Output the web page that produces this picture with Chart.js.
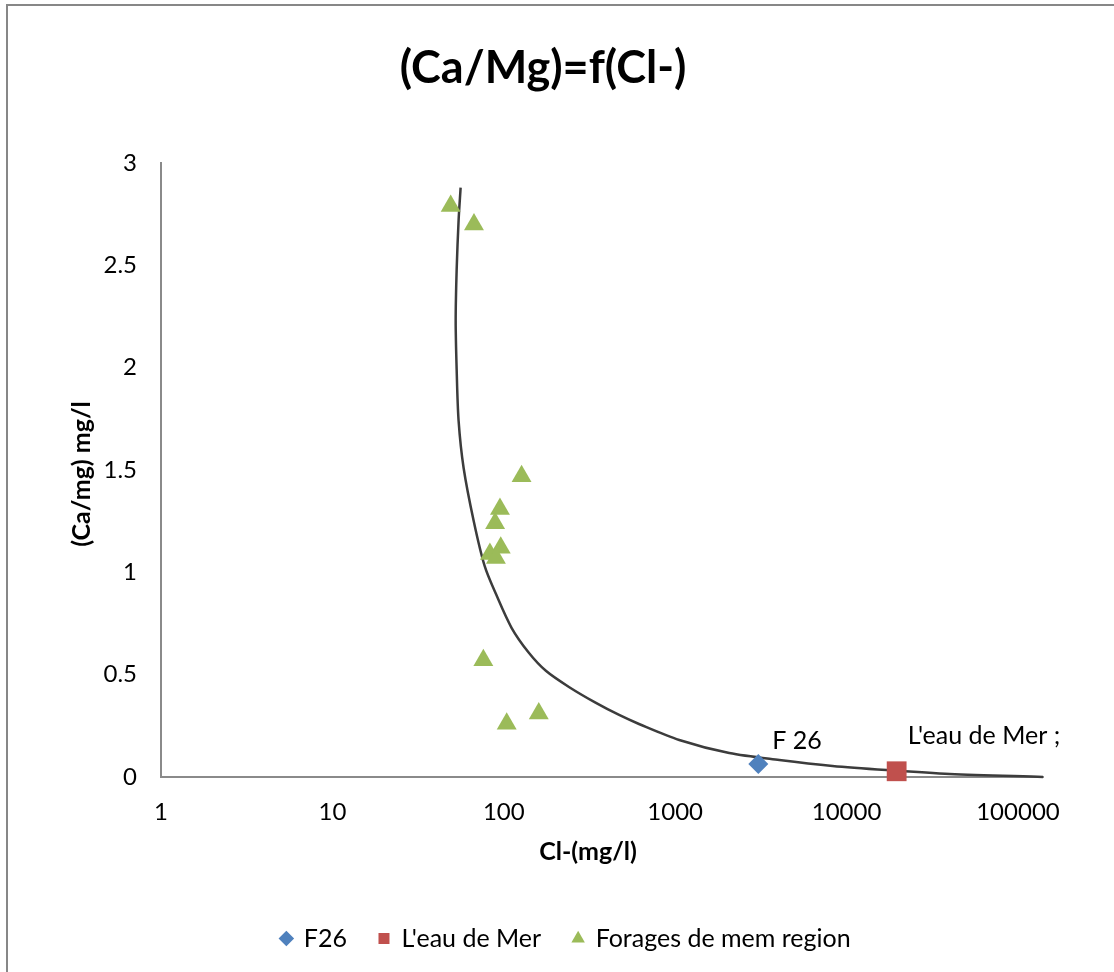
<!DOCTYPE html>
<html>
<head>
<meta charset="utf-8">
<title>(Ca/Mg)=f(Cl-)</title>
<script src="https://cdn.jsdelivr.net/npm/chart.js@4.4.1/dist/chart.umd.min.js"></script>
<style>
  html, body { margin: 0; padding: 0; background: #fff; overflow: hidden; }
  #wrap { position: relative; width: 1114px; height: 972px; }
  #frame { position: absolute; left: 6px; top: 4px; width: 1130px; height: 990px; border: 2px solid #878787; box-sizing: border-box; }
  canvas { position: absolute; left: 0; top: 0; }
</style>
</head>
<body>
<div id="wrap">
  <div id="frame"></div>
  <canvas id="ratio-chart" width="1114" height="972"></canvas>
</div>
<script>
// Textes du graphique
const chartTitle = '(Ca/Mg)=f(Cl-)';
const xTitle = 'Cl-(mg/l)';
const yTitle = '(Ca/mg) mg/l';

// Graduations des axes
const xTicks = [1, 10, 100, 1000, 10000, 100000];
const xMax = 140000;
const yTicks = [0, 0.5, 1, 1.5, 2, 2.5, 3];

// F26
const f26Cl = [3055];
const f26Ratio = [0.064];

// Eau de mer
const seaCl = [19600];
const seaRatio = [0.028];

// Forages de la meme region
const foragesCl = [49, 67, 127, 95, 89, 96, 83, 90, 76, 104, 160];
const foragesRatio = [2.79, 2.70, 1.47, 1.31, 1.24, 1.12, 1.09, 1.07, 0.57, 0.26, 0.31];

// Courbe tracee a la main
const curveCl = [56, 54.5, 53.1, 52.4, 53.1, 54.5, 58.3, 66.8, 77.4, 89.8, 111, 140, 176, 240, 345, 471, 615, 1056, 2068, 4056, 8280, 17100, 40000, 140000];
const curveRatio = [2.88, 2.72, 2.48, 2.23, 1.99, 1.74, 1.51, 1.25, 1.03, 0.896, 0.729, 0.607, 0.519, 0.44, 0.362, 0.303, 0.259, 0.181, 0.117, 0.083, 0.054, 0.034, 0.015, 0.0];

const toPoints = (xs, ys) => xs.map((x, i) => ({ x: x, y: ys[i] }));

// Titres et etiquettes dessines a la main
const textPlugin = {
    id: 'texts',
    afterDraw(chart) {
        const { ctx, scales } = chart;
        ctx.save();
        ctx.fillStyle = '#000';
        ctx.textAlign = 'center';
        ctx.textBaseline = 'middle';

        ctx.font = 'bold 45px Lato';
        ctx.fillText(chartTitle, 543, 68);

        ctx.font = 'bold 25px Lato';
        ctx.fillText(xTitle, 588, 852);

        ctx.save();
        ctx.translate(82, 474);
        ctx.rotate(-Math.PI / 2);
        ctx.fillText(yTitle, 0, 0);
        ctx.restore();

        // etiquettes des points
        ctx.font = '25px Lato';
        ctx.textAlign = 'left';
        const fx = scales.x.getPixelForValue(f26Cl[0]);
        const fy = scales.y.getPixelForValue(f26Ratio[0]);
        ctx.fillText('F 26', fx + 14, fy - 23);
        const sx = scales.x.getPixelForValue(seaCl[0]);
        const sy = scales.y.getPixelForValue(seaRatio[0]);
        ctx.fillText("L'eau de Mer ;", sx + 11, sy - 35);
        ctx.restore();
    }
};

const ctx = document.getElementById('ratio-chart');

new Chart(ctx, {
    type: 'scatter',
    data: {
        datasets: [
            {
                label: 'F26',
                data: toPoints(f26Cl, f26Ratio),
                pointStyle: 'rectRot',
                pointRadius: 10,
                pointHoverRadius: 10,
                backgroundColor: '#4F81BD',
                borderColor: '#4F81BD',
                borderWidth: 0,
                order: 1
            },
            {
                label: "L'eau de Mer",
                data: toPoints(seaCl, seaRatio),
                pointStyle: 'rect',
                pointRadius: 14,
                pointHoverRadius: 14,
                backgroundColor: '#C0504D',
                borderColor: '#C0504D',
                borderWidth: 0,
                order: 1
            },
            {
                label: 'Forages de mem region',
                data: toPoints(foragesCl, foragesRatio),
                pointStyle: 'triangle',
                pointRadius: 11.5,
                pointHoverRadius: 11.5,
                backgroundColor: '#9BBB59',
                borderColor: '#9BBB59',
                borderWidth: 0,
                order: 1
            },
            {
                label: 'courbe',
                data: toPoints(curveCl, curveRatio),
                showLine: true,
                pointRadius: 0,
                borderColor: '#3c3c3c',
                borderWidth: 2.5,
                tension: 0.3,
                fill: false,
                order: 2
            }
        ]
    },
    options: {
        responsive: false,
        animation: false,
        clip: false,
        layout: {
            padding: { left: 18, top: 163, right: 0, bottom: 11 }
        },
        plugins: {
            title: { display: false },
            tooltip: { enabled: false },
            legend: {
                position: 'bottom',
                labels: {
                    usePointStyle: true,
                    boxWidth: 10,
                    boxHeight: 11,
                    padding: 32,
                    color: '#000',
                    font: { family: 'Lato', size: 25 },
                    filter: item => item.datasetIndex < 3
                }
            }
        },
        scales: {
            x: {
                type: 'logarithmic',
                min: 1,
                max: xMax,
                afterBuildTicks: scale => {
                    scale.ticks = xTicks.map(v => ({ value: v }));
                },
                afterFit: scale => {
                    scale.height = 117;
                },
                grid: { display: false, drawTicks: false },
                border: { display: true, color: '#8a8a8a', width: 2 },
                ticks: {
                    padding: 21,
                    color: '#000',
                    font: { family: 'Lato', size: 24 },
                    maxRotation: 0,
                    autoSkip: false,
                    callback: value => String(value)
                }
            },
            y: {
                min: 0,
                max: 3,
                afterBuildTicks: scale => {
                    scale.ticks = yTicks.map(v => ({ value: v }));
                },
                afterFit: scale => {
                    scale.width = 143;
                },
                grid: { display: false, drawTicks: false },
                border: { display: true, color: '#8a8a8a', width: 2 },
                ticks: {
                    padding: 24,
                    color: '#000',
                    font: { family: 'Lato', size: 24 },
                    callback: value => String(value)
                }
            },
            // marge droite vide
            y2: {
                position: 'right',
                afterFit: scale => {
                    scale.width = 71;
                },
                grid: { display: false, drawTicks: false },
                border: { display: false },
                ticks: { display: false }
            }
        }
    },
    plugins: [textPlugin]
});
</script>
</body>
</html>
